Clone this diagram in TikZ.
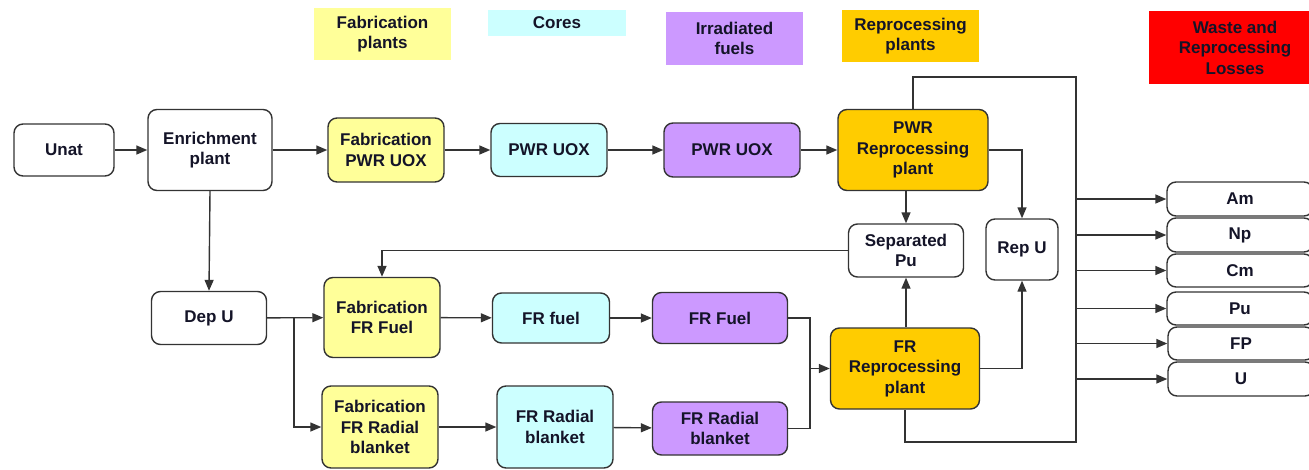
\documentclass[tikz,border=0pt]{standalone}
\usepackage{fontspec}
\setmainfont{Liberation Sans}
\usetikzlibrary{arrows.meta,calc}
\definecolor{fyel}{HTML}{FFFF99}
\definecolor{fcyan}{HTML}{CCFFFF}
\definecolor{fpurp}{HTML}{CC99FF}
\definecolor{fgold}{HTML}{FFCC00}
\definecolor{fred}{HTML}{FF0000}
\definecolor{edge}{HTML}{333333}
\definecolor{ink}{HTML}{141428}
\tikzset{
  box/.style={draw=edge, line width=1.4pt, rounded corners=9pt, align=center, inner sep=0pt,
    text=ink, font=\fontsize{17}{20.5}\selectfont\bfseries},
  hdr/.style={align=center, inner sep=0pt, text=ink, font=\fontsize{17}{20.5}\selectfont\bfseries},
  arr/.style={draw=edge, line width=1.4pt, -{Triangle[length=11pt,width=9pt]}},
  ln/.style={draw=edge, line width=1.4pt},
}
\begin{document}
\begin{tikzpicture}[x=1pt,y=-1pt]
\useasboundingbox (0,0) rectangle (1309,469);
\clip (0,0) rectangle (1309,469);
% headers
\node[hdr, fill=fyel, minimum width=137pt, minimum height=52pt] (h1) at (382.5,34) {Fabrication\\plants};
\node[hdr, fill=fcyan, minimum width=138pt, minimum height=26pt] (h2) at (557,23) {Cores};
\node[hdr, fill=fpurp, minimum width=137pt, minimum height=53pt] (h3) at (734.5,38.5) {Irradiated\\fuels};
\node[hdr, fill=fgold, minimum width=137pt, minimum height=52pt] (h4) at (910.5,36) {Reprocessing\\plants};
\node[hdr, fill=fred, minimum width=172pt, minimum height=73pt] (h5) at (1235,47.5) {Waste and\\Reprocessing\\Losses};
% top row
\node[box, fill=white, minimum width=100pt, minimum height=52pt] (unat) at (64,150) {Unat};
\node[box, fill=white, minimum width=124pt, minimum height=81pt] (enr) at (210,150) {Enrichment\\plant};
\node[box, fill=fyel, minimum width=116pt, minimum height=64pt] (fabpwr) at (386,150) {Fabrication\\PWR UOX};
\node[box, fill=fcyan, minimum width=116pt, minimum height=53pt] (pwrcore) at (549,150) {PWR UOX};
\node[box, fill=fpurp, minimum width=136pt, minimum height=54pt] (pwrirr) at (732,150) {PWR UOX};
\node[box, fill=fgold, minimum width=150pt, minimum height=81pt] (pwrrep) at (913,150) {PWR\\Reprocessing\\plant};
% middle
\node[box, fill=white, minimum width=115pt, minimum height=53pt] (seppu) at (906,250.5) {Separated\\Pu};
\node[box, fill=white, minimum width=72pt, minimum height=61pt] (repu) at (1022,249.5) {Rep U};
% second row
\node[box, fill=white, minimum width=115pt, minimum height=53pt] (depu) at (209,318) {Dep U};
\node[box, fill=fyel, minimum width=116pt, minimum height=80pt] (fabfr) at (382,317.5) {Fabrication\\FR Fuel};
\node[box, fill=fcyan, minimum width=117pt, minimum height=50pt] (frcore) at (551,318) {FR fuel};
\node[box, fill=fpurp, minimum width=135pt, minimum height=51pt] (frirr) at (720,318) {FR Fuel};
\node[box, fill=fgold, minimum width=149pt, minimum height=81pt] (frrep) at (905,368.5) {FR\\Reprocessing\\plant};
% third row
\node[box, fill=fyel, minimum width=116pt, minimum height=82pt] (fabrb) at (380,427) {Fabrication\\FR Radial\\blanket};
\node[box, fill=fcyan, minimum width=116pt, minimum height=82pt] (rbcore) at (555,427) {FR Radial\\blanket};
\node[box, fill=fpurp, minimum width=135pt, minimum height=53pt] (rbirr) at (720,428.5) {FR Radial\\blanket};
% outputs
\node[box, fill=white, minimum width=146pt, minimum height=34pt] (am) at (1240,199) {Am};
\node[box, fill=white, minimum width=146pt, minimum height=34pt] (np) at (1240,235) {Np};
\node[box, fill=white, minimum width=146pt, minimum height=33pt] (cm) at (1240,270.5) {Cm};
\node[box, fill=white, minimum width=146pt, minimum height=33pt] (pu) at (1240,308.5) {Pu};
\node[box, fill=white, minimum width=146pt, minimum height=33pt] (fp) at (1241,343.5) {FP};
\node[box, fill=white, minimum width=146pt, minimum height=34pt] (u) at (1241,379) {U};
% coordinates
\coordinate (trunk) at (1076,0);
\coordinate (loopT) at (1076,77);
\coordinate (loopB) at (1076,442);
\coordinate (br) at (294,318);
\coordinate (mrg) at (810,368.5);
% connectors top row
\draw[arr] (unat) -- (enr);
\draw[arr] (enr) -- (fabpwr);
\draw[arr] (fabpwr) -- (pwrcore);
\draw[arr] (pwrcore) -- (pwrirr);
\draw[arr] (pwrirr) -- (pwrrep);
\draw[arr] (enr.south) -- (depu.north);
% second row
\draw[arr] (depu) -- (fabfr);
\draw[arr] (br) |- (fabrb.west);
\draw[arr] (fabfr) -- (frcore);
\draw[arr] (frcore) -- (frirr);
\draw[arr] (fabrb) -- (rbcore);
\draw[arr] (rbcore) -- (rbirr);
\draw[ln] (frirr.east) -| (mrg);
\draw[ln] (rbirr.east) -| (mrg);
\draw[arr] (mrg) -- (frrep.west);
% reprocessing
\draw[arr] (seppu.north |- pwrrep.south) -- (seppu.north);
\draw[arr] (seppu.south |- frrep.north) -- (seppu.south);
\draw[arr] (pwrrep.east) -| (repu.north);
\draw[arr] (frrep.east) -| (repu.south);
\draw[arr] (seppu.west) -| (fabfr.north);
\draw[ln] (pwrrep.north) |- (loopT) -- (loopB) -| (frrep.south);
% outputs
\foreach \n in {am,np,cm,pu,fp,u}
  \draw[arr] (trunk |- \n.west) -- (\n.west);
\end{tikzpicture}
\end{document}
